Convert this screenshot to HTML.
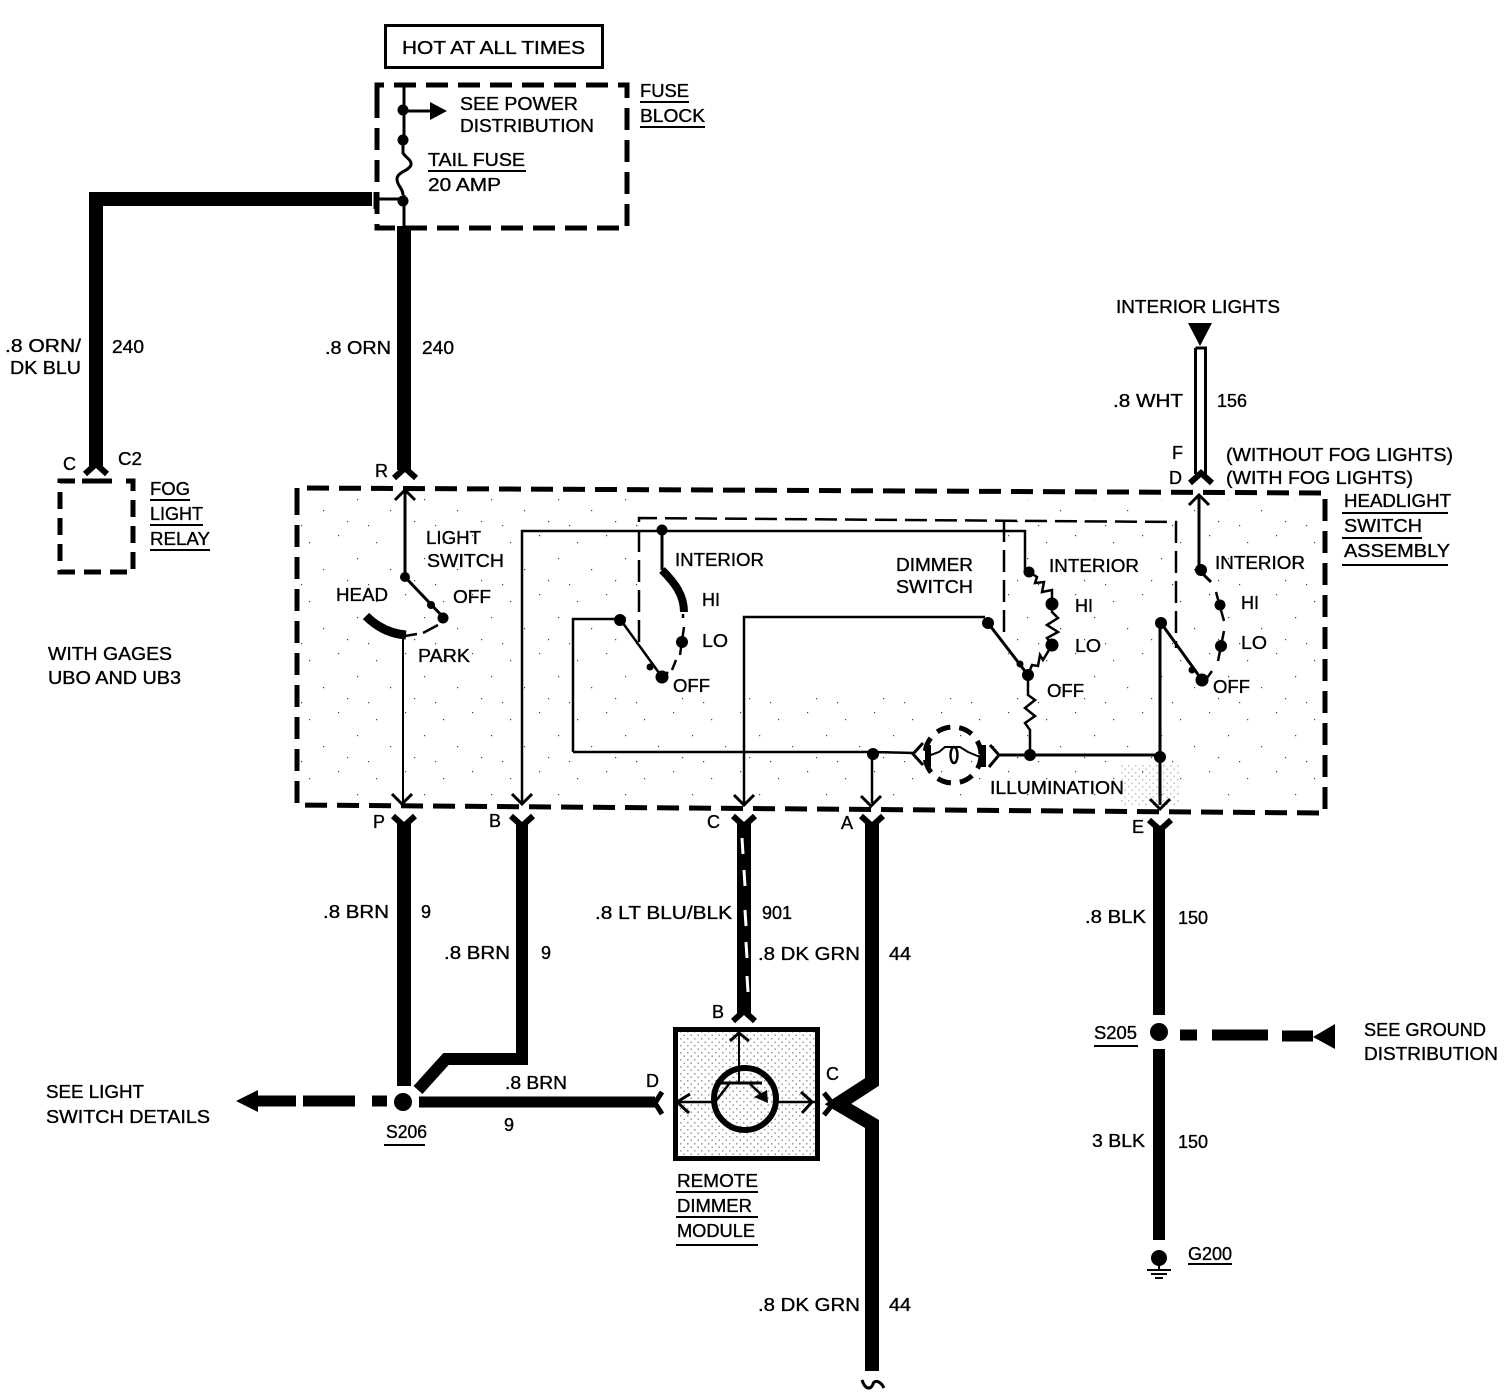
<!DOCTYPE html>
<html><head><meta charset="utf-8"><style>
html,body{margin:0;padding:0;background:#fff;width:1508px;height:1392px;overflow:hidden}
svg{display:block}
text{font-family:"Liberation Sans",sans-serif;font-size:18px;fill:#000;stroke:#000;stroke-width:.35px}
.w{fill:none;stroke:#000;stroke-linecap:butt;stroke-linejoin:miter}
</style></head><body>
<svg width="1508" height="1392" viewBox="0 0 1508 1392" xmlns="http://www.w3.org/2000/svg">
<defs>
<pattern id="st" width="7" height="7" patternUnits="userSpaceOnUse"><rect x="1" y="2" width="1.5" height="1.5" fill="#000"/><rect x="4.500" y="5.500" width="1.5" height="1.5" fill="#000"/></pattern>
<pattern id="sp" width="67" height="59" patternUnits="userSpaceOnUse"><rect x="3" y="4" width="1.2" height="1.2" fill="#444"/><rect x="41" y="11" width="1.2" height="1.2" fill="#444"/><rect x="22" y="27" width="1.2" height="1.2" fill="#444"/><rect x="55" y="38" width="1.2" height="1.2" fill="#444"/><rect x="12" y="49" width="1.2" height="1.2" fill="#444"/><rect x="33" y="53" width="1.2" height="1.2" fill="#444"/></pattern>
<g id="yu"><path d="M-11,-4 L0,6 L11,-4" class="w" stroke-width="6"/></g>
<g id="yd"><path d="M-11,4 L0,-6 L11,4" class="w" stroke-width="6"/></g>
<g id="cd"><path d="M-10,-10 L0,0 L10,-10" class="w" stroke-width="3"/></g>
<g id="cu"><path d="M-10,10 L0,0 L10,10" class="w" stroke-width="3"/></g>
</defs>
<rect width="1508" height="1392" fill="#fff"/>

<!-- stipple -->
<rect x="1000" y="500" width="320" height="305" fill="url(#sp)"/>
<rect x="640" y="690" width="360" height="110" fill="url(#sp)"/>
<rect x="300" y="495" width="340" height="305" fill="url(#sp)"/>
<rect x="1120" y="765" width="60" height="40" fill="url(#st)" opacity=".25"/>
<rect x="678" y="1032" width="137" height="124" fill="url(#st)" opacity=".4"/>

<!-- hot box -->
<rect x="385.500" y="25.500" width="217" height="42" fill="none" stroke="#000" stroke-width="3"/>

<!-- fuse block -->
<path d="M377,100 V85 H627 V228 H377 V100" class="w" stroke-width="5" stroke-dasharray="22 10"/>
<path d="M404,85 V141 M404,195 V226 M404,111 H432" class="w" stroke-width="3"/>
<path d="M403,141 V153 C406,158 412,160 411,165 C409,171 397,172 397,179 C397,186 403,188 403,195" class="w" stroke-width="3"/>
<path d="M376,199 H404" class="w" stroke-width="3"/>
<circle cx="403" cy="110" r="5.500"/><circle cx="403" cy="140" r="5.500"/><circle cx="403" cy="201" r="5.500"/>
<path d="M430,102 L447,111 L430,120Z"/>
<path d="M376,192 V209" class="w" stroke-width="5"/>

<!-- top wires -->
<path d="M372,199 H96 V466" class="w" stroke-width="14"/>
<path d="M404,226 V470" class="w" stroke-width="14"/>
<use href="#yd" x="405" y="474"/>
<use href="#yd" x="96" y="470"/>

<!-- fog relay -->
<path d="M75,481 H60 V572 H133 V481 H118" class="w" stroke-width="5" stroke-dasharray="17 9"/>
<path d="M82,481 H112" class="w" stroke-width="5"/>

<!-- interior lights wire -->
<path d="M1188,323 H1212 L1200,346Z"/>
<path d="M1195.500,348 H1205.500 V474 M1195.500,348 V474" class="w" stroke-width="3"/>
<use href="#yd" x="1201" y="479"/>

<!-- headlight assembly -->
<path d="M297,510 V488 L1325,493 V813 L297,805 V510" class="w" stroke-width="5" stroke-dasharray="22 10"/>
<!-- inner dashed -->
<path d="M639,642 V518 L1176,522 V648" class="w" stroke-width="2.500" stroke-dasharray="22 8"/>
<path d="M1004,520 V640" class="w" stroke-width="2.500" stroke-dasharray="22 8"/>

<!-- light switch -->
<path d="M405,490 V577 L443,617" class="w" stroke-width="3"/>
<use href="#cu" x="405" y="490"/>
<circle cx="405" cy="577" r="5"/><circle cx="431" cy="605" r="4"/><circle cx="443" cy="618" r="5.500"/>
<path d="M438,625 L423,633 M417,634 L405,636" class="w" stroke-width="2.500"/>
<path d="M366,616 C378,628 392,634 406,635" class="w" stroke-width="9" stroke-linecap="round"/>
<path d="M403,636 V803" class="w" stroke-width="2"/>
<use href="#cd" x="402" y="804"/>

<!-- B wire -->
<path d="M522,804 V531 H1025 V572" class="w" stroke-width="2.500"/>
<use href="#cd" x="522" y="804"/>
<circle cx="662" cy="530" r="5.500"/>
<path d="M662,530 V570" class="w" stroke-width="3"/>
<path d="M662,570 C675,583 684,595 684,612" class="w" stroke-width="8"/>
<path d="M683,614 V618 M684,627 L680,655 M676,660 L672,670 M668,672 L662,678" class="w" stroke-width="2.500"/>
<circle cx="682" cy="642" r="6"/><circle cx="662" cy="677" r="6.500"/>
<!-- left switch -->
<path d="M573,752 V619 H620 L662,677" class="w" stroke-width="2.500"/>
<circle cx="620" cy="620" r="6"/><circle cx="650" cy="667" r="3.500"/>
<path d="M573,752 H872 L915,753" class="w" stroke-width="2.500"/>
<circle cx="873" cy="754" r="6"/>
<path d="M872,754 V803" class="w" stroke-width="2.500"/>
<use href="#cd" x="871" y="806"/>

<!-- C wire -->
<path d="M744,804 V617 H985" class="w" stroke-width="2.500"/>
<use href="#cd" x="744" y="805"/>
<circle cx="988" cy="623" r="6"/>
<path d="M988,623 L1028,675" class="w" stroke-width="3"/>
<circle cx="1020" cy="664" r="3.500"/><circle cx="1028" cy="675" r="6"/>

<!-- coils -->
<path d="M1029,572 L1037,577 L1035,583 L1044,582 L1042,592 L1052,590 L1052,604 V612 L1058,618 L1047,625 L1058,632 L1047,638 L1052,645 L1043,660 L1040,655 L1038,666 L1032,665 L1028,675" class="w" stroke-width="2.500"/>
<circle cx="1029" cy="572" r="5.500"/><circle cx="1052" cy="604" r="6.500"/><circle cx="1052" cy="645" r="6.500"/>
<path d="M1028,675 V695 L1035,700 L1025,708 L1035,716 L1025,723 L1030,730 V755" class="w" stroke-width="2.500"/>

<!-- lamp -->
<circle cx="953" cy="755" r="28" class="w" stroke-width="5" stroke-dasharray="14 9"/>
<path d="M923,743 L913,754 L923,765 M990,745 L999,755 L989,767" class="w" stroke-width="3"/>
<path d="M928,745 V767 M983,745 V767" class="w" stroke-width="6"/>
<path d="M928,756 L939,752 L945,747 H960 L968,752 L980,757" class="w" stroke-width="2"/>
<ellipse cx="954" cy="755" rx="3.500" ry="8" class="w" stroke-width="2.500"/>

<!-- illumination bus -->
<path d="M1000,755 H1160" class="w" stroke-width="3"/>
<circle cx="1030" cy="755" r="6"/><circle cx="1160" cy="757" r="6"/>
<path d="M1160,623 V805" class="w" stroke-width="3"/>
<use href="#cd" x="1160" y="809"/>
<circle cx="1161" cy="623" r="6"/>
<path d="M1161,623 L1202,680" class="w" stroke-width="3"/>
<circle cx="1192" cy="670" r="3.500"/><circle cx="1202" cy="680" r="6.500"/>

<!-- right interior -->
<path d="M1199,496 V570 L1211,582" class="w" stroke-width="3"/>
<use href="#cu" x="1199" y="495"/>
<circle cx="1201" cy="570" r="6"/>
<path d="M1216,592 L1224,621 M1224,631 L1218,661 M1212,671 L1207,678" class="w" stroke-width="2.500"/>
<circle cx="1220" cy="605" r="5.500"/><circle cx="1221" cy="646" r="6"/>

<!-- lower connectors -->
<use href="#yu" x="404" y="820"/><use href="#yu" x="522" y="820"/><use href="#yu" x="744" y="820"/><use href="#yu" x="872" y="820"/><use href="#yu" x="1160" y="824"/>

<!-- lower wires -->
<path d="M404,822 V1086" class="w" stroke-width="14"/>
<path d="M522,822 V1059 H446 L418,1090" class="w" stroke-width="12"/>
<path d="M744,822 V1014" class="w" stroke-width="14"/>
<path d="M742,838 L743,854 M744,870 L745,886 M745,910 L746,926 M746,942 L747,958 M747,976 L748,992" stroke="#fff" stroke-width="3" fill="none"/>
<use href="#yd" x="744" y="1017"/>
<path d="M872,822 V1082 L838,1104 L872,1124 V1371" class="w" stroke-width="14"/>
<path d="M862,1380 C866,1392 872,1388 873,1384 C874,1380 880,1380 884,1388" class="w" stroke-width="3"/>
<path d="M1159,826 V1015 M1159,1049 V1240" class="w" stroke-width="12"/>

<!-- S206 -->
<circle cx="403" cy="1102" r="9"/>
<path d="M419,1102 H655" class="w" stroke-width="11"/>
<path d="M662,1092 L655,1103 L662,1114" class="w" stroke-width="5"/>
<path d="M236,1101 L258,1090 V1112Z"/>
<path d="M258,1101 H296 M303,1101 H355 M372,1101 H387" class="w" stroke-width="11"/>

<!-- S205 -->
<circle cx="1159" cy="1032" r="9"/>
<path d="M1180,1035 H1197 M1212,1035 H1268 M1282,1036 H1313" class="w" stroke-width="11"/>
<path d="M1335,1024 V1049 L1313,1037Z"/>

<!-- G200 -->
<circle cx="1159" cy="1258" r="8"/>
<path d="M1159,1265 V1270 M1147,1270 H1171 M1151,1274 H1167 M1155,1278 H1163" class="w" stroke-width="2"/>

<!-- module -->
<rect x="675.500" y="1029.500" width="142" height="129" fill="none" stroke="#000" stroke-width="5"/>
<circle cx="745" cy="1099" r="31" fill="none" stroke="#000" stroke-width="6"/>
<path d="M677,1102 H713 M777,1102 H816" class="w" stroke-width="2.500"/>
<path d="M690,1094 L677,1102 L689,1113 M801,1092 L812,1102 L802,1113" class="w" stroke-width="3"/>
<path d="M739,1033 V1082" class="w" stroke-width="2"/>
<path d="M730,1041 L739,1033 L749,1041" class="w" stroke-width="3"/>
<path d="M717,1083 H762" class="w" stroke-width="3"/>
<path d="M729,1084 L715,1102 M750,1084 L765,1098" class="w" stroke-width="2.500"/>
<path d="M754,1097 L767,1090 L768,1103Z"/>
<path d="M824,1093 L833,1104 L824,1115" class="w" stroke-width="5"/>

<!-- underlines -->
<path d="M428,171 H526 M640,102 H689 M640,127 H705 M150,500 H190 M150,525 H203 M150,550 H210 M1342,513 H1448 M1342,538 H1422 M1342,565 H1448 M384,1145 H425 M676,1192 H758 M676,1217 H758 M676,1245 H758 M1094,1046 H1138 M1188,1264 H1232" class="w" stroke-width="2"/>

<!-- labels -->
<text x="402" y="54" textLength="183" lengthAdjust="spacingAndGlyphs">HOT AT ALL TIMES</text>
<text x="460" y="110" textLength="118" lengthAdjust="spacingAndGlyphs">SEE POWER</text>
<text x="460" y="132" textLength="134" lengthAdjust="spacingAndGlyphs">DISTRIBUTION</text>
<text x="428" y="166" textLength="97" lengthAdjust="spacingAndGlyphs">TAIL FUSE</text>
<text x="428" y="191" textLength="73" lengthAdjust="spacingAndGlyphs">20 AMP</text>
<text x="640" y="97" textLength="49" lengthAdjust="spacingAndGlyphs">FUSE</text>
<text x="640" y="122" textLength="65" lengthAdjust="spacingAndGlyphs">BLOCK</text>
<text x="1116" y="313" textLength="164" lengthAdjust="spacingAndGlyphs">INTERIOR LIGHTS</text>
<text x="5" y="352" textLength="76" lengthAdjust="spacingAndGlyphs">.8 ORN/</text>
<text x="10" y="374" textLength="71" lengthAdjust="spacingAndGlyphs">DK BLU</text>
<text x="112" y="353" textLength="32" lengthAdjust="spacingAndGlyphs">240</text>
<text x="325" y="354" textLength="66" lengthAdjust="spacingAndGlyphs">.8 ORN</text>
<text x="422" y="354" textLength="32" lengthAdjust="spacingAndGlyphs">240</text>
<text x="1113" y="407" textLength="70" lengthAdjust="spacingAndGlyphs">.8 WHT</text>
<text x="1217" y="407" textLength="30" lengthAdjust="spacingAndGlyphs">156</text>
<text x="63" y="470">C</text>
<text x="118" y="465" textLength="24" lengthAdjust="spacingAndGlyphs">C2</text>
<text x="150" y="495" textLength="40" lengthAdjust="spacingAndGlyphs">FOG</text>
<text x="150" y="520" textLength="53" lengthAdjust="spacingAndGlyphs">LIGHT</text>
<text x="150" y="545" textLength="60" lengthAdjust="spacingAndGlyphs">RELAY</text>
<text x="48" y="660" textLength="124" lengthAdjust="spacingAndGlyphs">WITH GAGES</text>
<text x="48" y="684" textLength="133" lengthAdjust="spacingAndGlyphs">UBO AND UB3</text>
<text x="375" y="477">R</text>
<text x="1172" y="459">F</text>
<text x="1169" y="484">D</text>
<text x="1226" y="461" textLength="227" lengthAdjust="spacingAndGlyphs">(WITHOUT FOG LIGHTS)</text>
<text x="1226" y="484" textLength="187" lengthAdjust="spacingAndGlyphs">(WITH FOG LIGHTS)</text>
<text x="1344" y="507" textLength="107" lengthAdjust="spacingAndGlyphs">HEADLIGHT</text>
<text x="1344" y="532" textLength="78" lengthAdjust="spacingAndGlyphs">SWITCH</text>
<text x="1344" y="557" textLength="106" lengthAdjust="spacingAndGlyphs">ASSEMBLY</text>
<text x="426" y="544" textLength="55" lengthAdjust="spacingAndGlyphs">LIGHT</text>
<text x="427" y="567" textLength="77" lengthAdjust="spacingAndGlyphs">SWITCH</text>
<text x="336" y="601" textLength="52" lengthAdjust="spacingAndGlyphs">HEAD</text>
<text x="453" y="603" textLength="38" lengthAdjust="spacingAndGlyphs">OFF</text>
<text x="418" y="662" textLength="52" lengthAdjust="spacingAndGlyphs">PARK</text>
<text x="675" y="566" textLength="89" lengthAdjust="spacingAndGlyphs">INTERIOR</text>
<text x="702" y="606" textLength="18" lengthAdjust="spacingAndGlyphs">HI</text>
<text x="702" y="647" textLength="26" lengthAdjust="spacingAndGlyphs">LO</text>
<text x="673" y="692" textLength="37" lengthAdjust="spacingAndGlyphs">OFF</text>
<text x="896" y="571" textLength="77" lengthAdjust="spacingAndGlyphs">DIMMER</text>
<text x="896" y="593" textLength="77" lengthAdjust="spacingAndGlyphs">SWITCH</text>
<text x="1049" y="572" textLength="90" lengthAdjust="spacingAndGlyphs">INTERIOR</text>
<text x="1075" y="612" textLength="18" lengthAdjust="spacingAndGlyphs">HI</text>
<text x="1075" y="652" textLength="26" lengthAdjust="spacingAndGlyphs">LO</text>
<text x="1047" y="697" textLength="37" lengthAdjust="spacingAndGlyphs">OFF</text>
<text x="1215" y="569" textLength="90" lengthAdjust="spacingAndGlyphs">INTERIOR</text>
<text x="1241" y="609" textLength="18" lengthAdjust="spacingAndGlyphs">HI</text>
<text x="1241" y="649" textLength="26" lengthAdjust="spacingAndGlyphs">LO</text>
<text x="1213" y="693" textLength="37" lengthAdjust="spacingAndGlyphs">OFF</text>
<text x="990" y="794" textLength="134" lengthAdjust="spacingAndGlyphs">ILLUMINATION</text>
<text x="373" y="828">P</text>
<text x="489" y="827">B</text>
<text x="707" y="828">C</text>
<text x="841" y="829">A</text>
<text x="1132" y="833">E</text>
<text x="323" y="918" textLength="66" lengthAdjust="spacingAndGlyphs">.8 BRN</text>
<text x="421" y="918">9</text>
<text x="444" y="959" textLength="66" lengthAdjust="spacingAndGlyphs">.8 BRN</text>
<text x="541" y="959">9</text>
<text x="595" y="919" textLength="137" lengthAdjust="spacingAndGlyphs">.8 LT BLU/BLK</text>
<text x="762" y="919" textLength="30" lengthAdjust="spacingAndGlyphs">901</text>
<text x="758" y="960" textLength="102" lengthAdjust="spacingAndGlyphs">.8 DK GRN</text>
<text x="889" y="960" textLength="22" lengthAdjust="spacingAndGlyphs">44</text>
<text x="1085" y="923" textLength="61" lengthAdjust="spacingAndGlyphs">.8 BLK</text>
<text x="1178" y="924" textLength="30" lengthAdjust="spacingAndGlyphs">150</text>
<text x="1094" y="1039" textLength="43" lengthAdjust="spacingAndGlyphs">S205</text>
<text x="1092" y="1147" textLength="53" lengthAdjust="spacingAndGlyphs">3 BLK</text>
<text x="1178" y="1148" textLength="30" lengthAdjust="spacingAndGlyphs">150</text>
<text x="1188" y="1260" textLength="44" lengthAdjust="spacingAndGlyphs">G200</text>
<text x="1364" y="1036" textLength="122" lengthAdjust="spacingAndGlyphs">SEE GROUND</text>
<text x="1364" y="1060" textLength="134" lengthAdjust="spacingAndGlyphs">DISTRIBUTION</text>
<text x="46" y="1098" textLength="98" lengthAdjust="spacingAndGlyphs">SEE LIGHT</text>
<text x="46" y="1123" textLength="164" lengthAdjust="spacingAndGlyphs">SWITCH DETAILS</text>
<text x="386" y="1138" textLength="41" lengthAdjust="spacingAndGlyphs">S206</text>
<text x="504" y="1131">9</text>
<text x="505" y="1089" textLength="62" lengthAdjust="spacingAndGlyphs">.8 BRN</text>
<text x="712" y="1018">B</text>
<text x="646" y="1087">D</text>
<text x="826" y="1080">C</text>
<text x="677" y="1187" textLength="81" lengthAdjust="spacingAndGlyphs">REMOTE</text>
<text x="677" y="1212" textLength="75" lengthAdjust="spacingAndGlyphs">DIMMER</text>
<text x="677" y="1237" textLength="78" lengthAdjust="spacingAndGlyphs">MODULE</text>
<text x="758" y="1311" textLength="102" lengthAdjust="spacingAndGlyphs">.8 DK GRN</text>
<text x="889" y="1311" textLength="22" lengthAdjust="spacingAndGlyphs">44</text>
</svg>
</body></html>
